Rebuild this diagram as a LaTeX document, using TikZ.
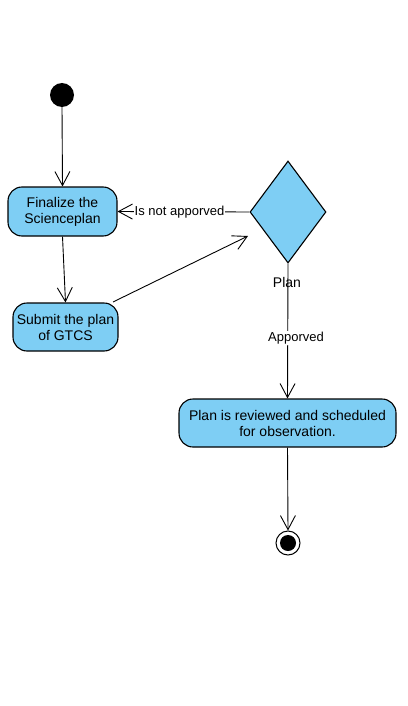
\documentclass[tikz,border=0pt]{standalone}
\usepackage{fontspec}
\setmainfont{Liberation Sans}
\usetikzlibrary{arrows.meta,shapes.geometric}
\definecolor{actfill}{RGB}{126,206,244}
\tikzset{
  act/.style={draw=black, line width=1.1pt, fill=actfill, rounded corners=14pt, align=center, font=\fontsize{14}{16}\selectfont, inner sep=0pt},
  flow/.style={draw=black, line width=0.9pt, -{Straight Barb[length=14pt,width=15pt,line width=0.9pt]}},
  lbl/.style={fill=white, inner sep=1pt, font=\fontsize{13}{15}\selectfont}
}
\begin{document}
\begin{tikzpicture}[x=1pt,y=-1pt]
\useasboundingbox (0,0) rectangle (407,706);
\fill[white] (0,0) rectangle (407,706);
\node[circle, fill=black, minimum size=24pt, inner sep=0pt] (start) at (62,95) {};
\node[act, minimum width=109pt, minimum height=49pt] (fin) at (62.5,211.5) {Finalize the\\Scienceplan};
\node[act, minimum width=105pt, minimum height=48pt] (sub) at (65.5,327) {Submit the plan\\of GTCS};
\node[diamond, draw=black, line width=1.1pt, fill=actfill, minimum width=76pt, minimum height=102pt, inner sep=0pt] (dec) at (288,212) {};
\node[font=\fontsize{14}{16}\selectfont] (plan) at (287,282) {Plan};
\node[act, minimum width=217pt, minimum height=48pt] (rev) at (287.5,423) {Plan is reviewed and scheduled\\for observation.};
\node[circle, draw=black, line width=1pt, fill=white, minimum size=24pt, inner sep=0pt] (end) at (288,543) {};
\node[circle, fill=black, minimum size=16pt, inner sep=0pt] (endin) at (end.center) {};
\coordinate (s1) at (113,302);
\coordinate (d1) at (248,236);
\draw[flow] (start.south) -- (fin.north);
\draw[flow] (fin.south) -- (sub.north);
\draw[flow] (s1) -- (d1);
\draw[flow] (dec.west) -- node[lbl, pos=0.53] {Is not apporved} (fin.east);
\draw[flow] (dec.south) -- (rev.north);
\node[lbl] (appr) at (296,338) {Apporved};
\draw[flow] (rev.south) -- (end.north);
\end{tikzpicture}
\end{document}
